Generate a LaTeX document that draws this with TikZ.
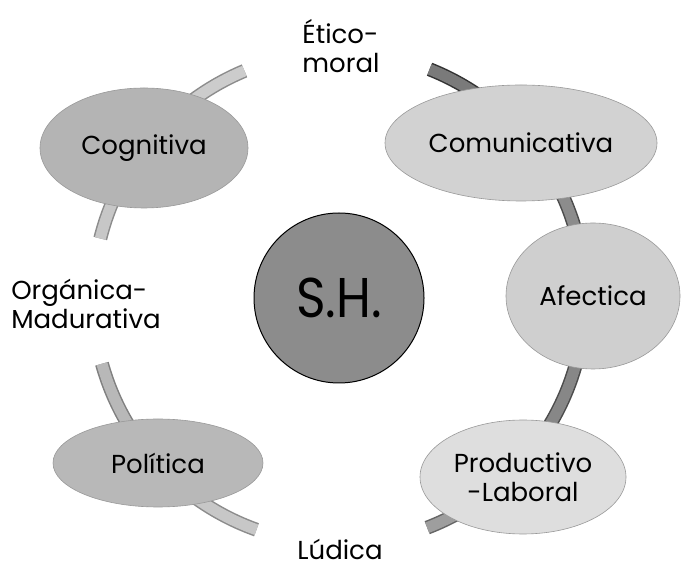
\documentclass[tikz,border=0pt]{standalone}
\usepackage{fontspec}
\setmainfont{Poppins}
\usetikzlibrary{calc,shapes.geometric}
\definecolor{cogfill}{HTML}{B4B4B4}
\definecolor{comfill}{HTML}{D2D2D2}
\definecolor{afefill}{HTML}{CFCFCF}
\definecolor{profill}{HTML}{DEDEDE}
\definecolor{polfill}{HTML}{B8B8B8}
\definecolor{shfill}{HTML}{8C8C8C}
\tikzset{
  lbl/.style={font=\fontsize{26}{29}\selectfont, text=black},
  blob/.style={ellipse, inner sep=0pt, draw=black!40, line width=0.6pt, lbl},
  bandout/.style={line width=14pt, line cap=butt},
  bandin/.style={line width=11pt, line cap=butt},
}
\newcommand{\ringband}[4]{%
  \draw[bandout, draw=#3] ($(C)+(#1:246)$) arc[start angle=#1, end angle=#2, radius=246];
  \draw[bandin, draw=#4] ($(C)+(#1:246)$) arc[start angle=#1, end angle=#2, radius=246];
}
\begin{document}
\begin{tikzpicture}[x=1pt,y=1pt]
\useasboundingbox (0,0) rectangle (682,567);
\fill[white] (0,0) rectangle (682,567);
\coordinate (C) at (339,269);
% ring bands
\ringband{142}{112.6}{black!45}{black!20}
\ringband{68.4}{40}{black!80}{black!52}
\ringband{40}{0.5}{black!70}{black!45}
\ringband{0.5}{-44}{black!70}{black!47}
\ringband{-44}{-69}{black!60}{black!38}
\ringband{-109.6}{-137.6}{black!45}{black!22}
\ringband{-137.6}{-164.5}{black!50}{black!28}
\ringband{166}{142}{black!45}{black!22}
% nodes
\node[blob, fill=cogfill, minimum width=208pt, minimum height=120pt] (cog) at (144,419) {Cognitiva};
\node[blob, fill=comfill, minimum width=272pt, minimum height=116pt] (com) at (521,424) {Comunicativa};
\node[blob, fill=afefill, minimum width=174pt, minimum height=146pt] (afe) at (593,271) {Afectica};
\node[blob, fill=profill, minimum width=206pt, minimum height=114pt, align=center] (pro) at (523,90) {Productivo\\-Laboral};
\node[blob, fill=polfill, minimum width=210pt, minimum height=88pt] (pol) at (158,104) {Política};
\node[circle, fill=shfill, draw=black, line width=1pt, minimum size=170pt, inner sep=0pt,
      font=\fontsize{56}{60}\selectfont] (sh) at (339,269) {\scalebox{0.9}[1]{S.H.}};
% free labels
\node[lbl, align=left] (eti) at (341,521) {Ético-\\moral};
\node[lbl, align=left] (org) at (86,263) {Orgánica-\\Madurativa};
\node[lbl, anchor=base, inner sep=0pt] (lud) at (340,8) {Lúdica};
\end{tikzpicture}
\end{document}
